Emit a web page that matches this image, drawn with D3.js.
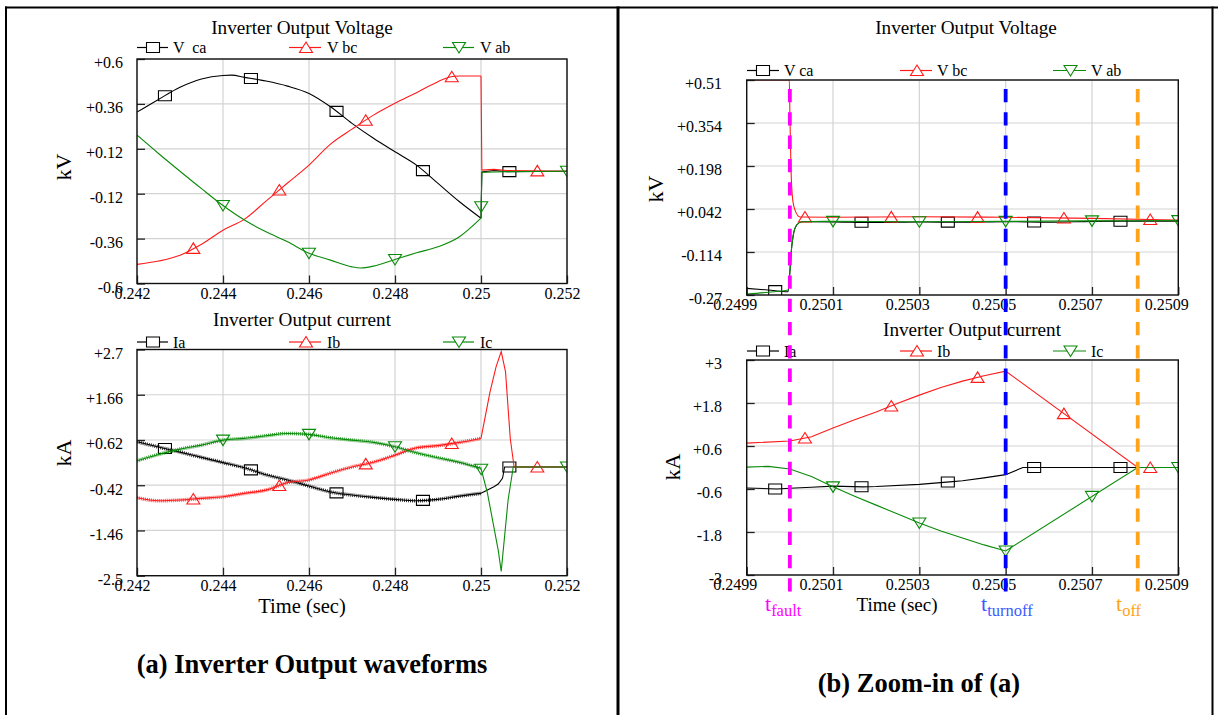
<!DOCTYPE html>
<html>
<head>
<meta charset="utf-8">
<script src="https://cdn.jsdelivr.net/npm/d3@7"></script>
<style>
  body { margin: 0; background: #fff; }
  svg text { font-family: "Liberation Serif", "Times New Roman", serif; }
</style>
</head>
<body>
<svg id="fig" width="1218" height="715" font-family="Liberation Serif, serif"></svg>
<script>
// ---------- (a) full window, line voltages in kV: [time s, value] ----------
const vcaA = [[0.2420,0.316],[0.2425,0.384],[0.2430,0.449],[0.2435,0.493],[0.2440,0.512],[0.2442,0.514],
  [0.2445,0.502],[0.2450,0.482],[0.2455,0.455],[0.2460,0.416],[0.2465,0.345],[0.2470,0.256],[0.2475,0.176],
  [0.2480,0.104],[0.2485,0.033],[0.2490,-0.065],[0.2495,-0.163],[0.2500,-0.251],[0.25002,-0.004],
  [0.2503,0.004],[0.2506,-0.002],[0.2520,0.0]];
const vbcA = [[0.2420,-0.498],[0.2425,-0.480],[0.2430,-0.449],[0.2435,-0.390],[0.2440,-0.315],[0.2445,-0.256],
  [0.2450,-0.160],[0.2455,-0.063],[0.2460,0.033],[0.2465,0.145],[0.2470,0.225],[0.2475,0.300],[0.2480,0.363],
  [0.2485,0.420],[0.2490,0.479],[0.2493,0.505],[0.2495,0.509],[0.2500,0.509],[0.25002,0.006],[0.2503,0.010],
  [0.2506,0.004],[0.2520,0.0]];
const vabA = [[0.2420,0.193],[0.2425,0.095],[0.2430,0.000],[0.2435,-0.093],[0.2440,-0.183],[0.2445,-0.261],
  [0.2450,-0.324],[0.2455,-0.377],[0.2460,-0.438],[0.2465,-0.475],[0.2470,-0.511],[0.2472,-0.517],[0.2475,-0.507],
  [0.2480,-0.472],[0.2485,-0.436],[0.2490,-0.404],[0.2495,-0.350],[0.2500,-0.251],[0.250005,-0.190],
  [0.25002,-0.006],[0.2503,-0.004],[0.2506,-0.002],[0.2520,0.0]];

// ---------- (a) full window, phase currents in kA ----------
const iaA = [[0.2420,0.578],[0.2425,0.458],[0.2430,0.341],[0.2435,0.220],[0.2440,0.100],[0.2445,-0.020],
  [0.2450,-0.180],[0.2455,-0.300],[0.2460,-0.440],[0.2465,-0.575],[0.2470,-0.646],[0.2475,-0.699],[0.2480,-0.745],
  [0.2485,-0.777],[0.2490,-0.745],[0.2495,-0.670],[0.2500,-0.607],[0.2503,-0.456],[0.2504,-0.394],[0.2505,-0.263],
  [0.25055,0.0],[0.2520,0.0]];
const ibA = [[0.2420,-0.708],[0.2425,-0.777],[0.2430,-0.761],[0.2435,-0.722],[0.2440,-0.686],[0.2445,-0.607],
  [0.2450,-0.532],[0.2455,-0.360],[0.2460,-0.300],[0.2465,-0.140],[0.2470,0.000],[0.2475,0.110],[0.2480,0.272],
  [0.2485,0.440],[0.2490,0.490],[0.2495,0.564],[0.2500,0.656],[0.25021,1.726],[0.25035,2.300],[0.25047,2.650],
  [0.25057,2.190],[0.25068,0.660],[0.25077,0.0],[0.2520,0.0]];
const icA = [[0.2420,0.141],[0.2425,0.288],[0.2430,0.410],[0.2435,0.502],[0.2440,0.617],[0.2445,0.656],
  [0.2450,0.716],[0.2455,0.770],[0.2460,0.748],[0.2465,0.670],[0.2470,0.617],[0.2475,0.564],[0.2480,0.463],
  [0.2485,0.325],[0.2490,0.210],[0.2495,0.105],[0.2500,-0.033],[0.25015,-0.600],[0.2504,-1.910],[0.25047,-2.400],
  [0.25063,-0.760],[0.25075,0.0],[0.2520,0.0]];

// ---------- (b) zoom around the fault, line voltages in kV ----------
const vcaB = [[0.24990,-0.246],[0.24995,-0.252],[0.249996,-0.258],[0.2500003,-0.180],[0.2500043,-0.095],
  [0.250008,-0.052],[0.2500158,-0.016],[0.2500274,-0.004],[0.25010,-0.005],[0.25020,-0.007],[0.25030,-0.005],
  [0.25040,-0.006],[0.25050,-0.004],[0.25060,-0.006],[0.25070,-0.003],[0.25080,-0.002],[0.25090,-0.002]];
const vbcB = [[0.24990,0.510],[0.2499987,0.510],[0.2500003,0.365],[0.2500027,0.183],[0.2500066,0.075],
  [0.250012,0.038],[0.2500235,0.013],[0.25010,0.012],[0.25030,0.014],[0.25050,0.012],[0.25070,0.008],[0.25090,0.002]];
const vabB = [[0.24990,-0.267],[0.24995,-0.260],[0.249996,-0.252],[0.2500003,-0.180],[0.2500043,-0.095],
  [0.250008,-0.052],[0.2500158,-0.016],[0.2500274,-0.004],[0.25010,-0.003],[0.25030,-0.004],[0.25050,-0.003],
  [0.25070,-0.001],[0.25090,0.0]];

// ---------- (b) zoom around the fault, phase currents in kA ----------
const iaB = [[0.24990,-0.57],[0.24997,-0.60],[0.25000,-0.58],[0.25005,-0.55],[0.25010,-0.52],[0.25017,-0.54],
  [0.25020,-0.53],[0.25030,-0.47],[0.25037,-0.40],[0.25040,-0.37],[0.25045,-0.29],[0.25050,-0.20],
  [0.25053,-0.05],[0.25054,0.0],[0.25090,0.0]];
const ibB = [[0.24990,0.68],[0.25000,0.74],[0.25005,0.86],[0.25010,1.10],[0.25015,1.33],[0.25020,1.55],
  [0.25025,1.79],[0.25030,2.02],[0.25035,2.23],[0.25040,2.41],[0.25045,2.56],[0.25050,2.69],[0.250806,0.0],
  [0.25090,0.0]];
const icB = [[0.24990,0.01],[0.24995,0.03],[0.25000,-0.04],[0.25005,-0.25],[0.25010,-0.54],[0.25015,-0.80],
  [0.25020,-1.05],[0.25025,-1.30],[0.25030,-1.55],[0.25035,-1.77],[0.25040,-1.97],[0.25045,-2.16],
  [0.25050,-2.33],[0.250806,0.0],[0.25090,0.0]];

// ---------- marker sample times ----------
const sqTimesA   = [0.24265, 0.24465, 0.24664, 0.24865, 0.25066];
const upTimesA   = [0.24331, 0.24531, 0.24732, 0.24932, 0.25131];
const downTimesA = [0.2440, 0.2460, 0.2480, 0.250005, 0.2520];
const sqTimesB   = [0.249966, 0.250166, 0.250366, 0.250566, 0.250766];
const upTimesB   = [0.250035, 0.250235, 0.250435, 0.250635, 0.250835];
const downTimesB = [0.2501, 0.2503, 0.2505, 0.2507, 0.2509];

// ---------- ticks ----------
const timeTicksA  = [0.242, 0.244, 0.246, 0.248, 0.250, 0.252];
const timeLabelsA = ["0.242", "0.244", "0.246", "0.248", "0.25", "0.252"];
const timeTicksB  = [0.2499, 0.2501, 0.2503, 0.2505, 0.2507, 0.2509];
const timeLabelsB = ["0.2499", "0.2501", "0.2503", "0.2505", "0.2507", "0.2509"];
const kvTicksA  = [0.6, 0.36, 0.12, -0.12, -0.36, -0.6];
const kvLabelsA = ["+0.6", "+0.36", "+0.12", "-0.12", "-0.36", "-0.6"];
const kaTicksA  = [2.7, 1.66, 0.62, -0.42, -1.46, -2.5];
const kaLabelsA = ["+2.7", "+1.66", "+0.62", "-0.42", "-1.46", "-2.5"];
const kvTicksB  = [0.51, 0.354, 0.198, 0.042, -0.114, -0.27];
const kvLabelsB = ["+0.51", "+0.354", "+0.198", "+0.042", "-0.114", "-0.27"];
const kaTicksB  = [3, 1.8, 0.6, -0.6, -1.8, -3];
const kaLabelsB = ["+3", "+1.8", "+0.6", "-0.6", "-1.8", "-3"];

// ---------- event instants in the zoomed view ----------
const tFault = 0.25, tTurnoff = 0.2505, tOff = 0.250806;

const BLACK = "#000000", RED = "#ff1a1a", GREEN = "#0a8a0a";
const svg = d3.select("#fig");
svg.append("rect").attr("width", 1218).attr("height", 715).attr("fill", "#fff");

function markerPath(kind) {
  if (kind === "square") return "M-6.5,-5H6.5V5H-6.5Z";
  if (kind === "up") return "M0,-5.5L6.5,5L-6.5,5Z";
  return "M-6.5,-5L6.5,-5L0,5.5Z";
}

function valueAt(series, t) {
  const i = d3.bisector(d => d[0]).right(series, t);
  if (i <= 0) return series[0][1];
  if (i >= series.length) return series[series.length - 1][1];
  const a = series[i - 1], b = series[i];
  return a[1] + (b[1] - a[1]) * (t - a[0]) / (b[0] - a[0]);
}

let clipId = 0;
function drawPanel(cfg) {
  const x = d3.scaleLinear().domain(cfg.xDomain).range([cfg.left, cfg.right]);
  const y = d3.scaleLinear().domain(cfg.yDomain).range([cfg.bottom, cfg.top]);
  const g = svg.append("g");

  // grid
  g.append("g").selectAll("line").data(cfg.xTicks).join("line")
    .attr("x1", d => x(d)).attr("x2", d => x(d)).attr("y1", cfg.top).attr("y2", cfg.bottom)
    .attr("stroke", "#d3d3d3").attr("stroke-width", 1.2);
  g.append("g").selectAll("line").data(cfg.yTicks).join("line")
    .attr("y1", d => y(d)).attr("y2", d => y(d)).attr("x1", cfg.left).attr("x2", cfg.right)
    .attr("stroke", "#d3d3d3").attr("stroke-width", 1.2);

  // series, clipped to the plot box
  const id = "clip" + (clipId++);
  svg.append("clipPath").attr("id", id).append("rect")
    .attr("x", cfg.left).attr("y", cfg.top).attr("width", cfg.right - cfg.left).attr("height", cfg.bottom - cfg.top);
  const plot = g.append("g").attr("clip-path", `url(#${id})`);
  const smooth = d3.line().x(d => x(d[0])).y(d => y(d[1])).curve(d3.curveMonotoneX);
  const sharp = d3.line().x(d => x(d[0])).y(d => y(d[1])).curve(d3.curveLinear);
  const split = cfg.sharpFrom !== undefined ? cfg.sharpFrom : Infinity;

  cfg.series.forEach(s => {
    const pre = s.data.filter(d => d[0] <= split);
    const post = s.data.filter(d => d[0] >= split);
    if (cfg.rippleUntil !== undefined) {
      // PWM switching ripple before the fault: drawn as a hatched band
      const rip = s.data.filter(d => d[0] <= cfg.rippleUntil);
      plot.append("path").attr("d", smooth(rip)).attr("fill", "none")
        .attr("stroke", s.color).attr("stroke-width", 3.6).attr("stroke-dasharray", "1,1")
        .attr("opacity", 0.8);
    }
    if (pre.length > 1) plot.append("path").attr("d", smooth(pre)).attr("fill", "none")
      .attr("stroke", s.color).attr("stroke-width", 1.1);
    if (post.length > 1) plot.append("path").attr("d", sharp(post)).attr("fill", "none")
      .attr("stroke", s.color).attr("stroke-width", 1.1);
    plot.append("g").selectAll("path").data(s.times).join("path")
      .attr("transform", t => `translate(${x(t)},${y(valueAt(s.data, t))})`)
      .attr("d", markerPath(s.marker)).attr("fill", "none")
      .attr("stroke", s.color).attr("stroke-width", 1.1);
  });

  // axes with inward ticks
  const gx = g.append("g").attr("transform", `translate(0,${cfg.bottom})`)
    .call(d3.axisBottom(x).tickValues(cfg.xTicks).tickFormat((d, i) => cfg.xLabels[i])
      .tickSize(-8).tickPadding(4));
  gx.select(".domain").remove();
  gx.attr("font-size", 16).attr("font-family", "Liberation Serif, serif");
  gx.selectAll("line").attr("stroke", "#222").attr("stroke-width", 1.3);
  gx.selectAll("text").attr("dx", cfg.xLabelDx).attr("fill", "#000");

  const gy = g.append("g").attr("transform", `translate(${cfg.left},0)`)
    .call(d3.axisLeft(y).tickValues(cfg.yTicks).tickFormat((d, i) => cfg.yLabels[i])
      .tickSize(-8).tickPadding(cfg.left - cfg.yLabelRight));
  gy.select(".domain").remove();
  gy.attr("font-size", 16).attr("font-family", "Liberation Serif, serif");
  gy.selectAll("line").attr("stroke", "#222").attr("stroke-width", 1.3);
  gy.selectAll("text").attr("dy", "0.55em").attr("fill", "#000");

  // frame
  g.append("rect").attr("x", cfg.left).attr("y", cfg.top)
    .attr("width", cfg.right - cfg.left).attr("height", cfg.bottom - cfg.top)
    .attr("fill", "none").attr("stroke", "#111").attr("stroke-width", 1.4);

  // title
  g.append("text").attr("x", cfg.titleX).attr("y", cfg.titleY).attr("text-anchor", "middle")
    .attr("font-size", 19.2).text(cfg.title);

  // legend
  cfg.series.forEach((s, i) => {
    const L = cfg.legend[i];
    g.append("line").attr("x1", L.x1).attr("x2", L.x2).attr("y1", cfg.legendY).attr("y2", cfg.legendY)
      .attr("stroke", s.color).attr("stroke-width", 1.2);
    g.append("path").attr("transform", `translate(${L.mx},${cfg.legendY})`).attr("d", markerPath(s.marker))
      .attr("fill", "#fff").attr("stroke", s.color).attr("stroke-width", 1.1);
    g.append("text").attr("x", L.tx).attr("y", cfg.legendY + 5.5).attr("font-size", 16)
      .style("white-space", "pre").text(s.name);
  });

  // unit label
  g.append("text").attr("transform", `translate(${cfg.unitX},${cfg.unitY}) rotate(-90)`)
    .attr("text-anchor", "middle").attr("dy", "0.35em").attr("font-size", 22).text(cfg.unit);

  if (cfg.timeLabel) {
    g.append("text").attr("x", cfg.timeLabel.x).attr("y", cfg.timeLabel.y).attr("text-anchor", "middle")
      .attr("font-size", cfg.timeLabel.size).text("Time (sec)");
  }
  return { x, y };
}

// ===== (a) =====
const legendA = [{ x1: 137, x2: 168, mx: 153, tx: 173 }, { x1: 289, x2: 321, mx: 306, tx: 327 },
                 { x1: 443, x2: 474, mx: 459, tx: 480 }];
drawPanel({
  left: 137, right: 567, top: 59, bottom: 283.5,
  xDomain: [0.242, 0.252], yDomain: [-0.6, 0.6],
  xTicks: timeTicksA, xLabels: timeLabelsA, yTicks: kvTicksA, yLabels: kvLabelsA,
  xLabelDx: -5, yLabelRight: 123, sharpFrom: 0.2500,
  title: "Inverter Output Voltage", titleX: 302, titleY: 34,
  legendY: 47.5, legend: legendA, unit: "kV", unitX: 63, unitY: 167,
  series: [
    { name: "V  ca", data: vcaA, color: BLACK, marker: "square", times: sqTimesA },
    { name: "V bc", data: vbcA, color: RED, marker: "up", times: upTimesA },
    { name: "V ab", data: vabA, color: GREEN, marker: "down", times: downTimesA }
  ]
});
drawPanel({
  left: 137, right: 567, top: 349.5, bottom: 575.7,
  xDomain: [0.242, 0.252], yDomain: [-2.5, 2.7],
  xTicks: timeTicksA, xLabels: timeLabelsA, yTicks: kaTicksA, yLabels: kaLabelsA,
  xLabelDx: -5, yLabelRight: 123, sharpFrom: 0.2500,
  title: "Inverter Output current", titleX: 302, titleY: 326,
  legendY: 342, legend: legendA, unit: "kA", unitX: 63, unitY: 453,
  rippleUntil: 0.2500,
  timeLabel: { x: 302, y: 613, size: 20.5 },
  series: [
    { name: "Ia", data: iaA, color: BLACK, marker: "square", times: sqTimesA },
    { name: "Ib", data: ibA, color: RED, marker: "up", times: upTimesA },
    { name: "Ic", data: icA, color: GREEN, marker: "down", times: downTimesA }
  ]
});

// ===== (b) =====
const legendB = [{ x1: 747, x2: 779, mx: 763, tx: 784 }, { x1: 900, x2: 932, mx: 917, tx: 937 },
                 { x1: 1053, x2: 1086, mx: 1070.5, tx: 1091 }];
const zoomScales = drawPanel({
  left: 746.7, right: 1178.3, top: 80, bottom: 295,
  xDomain: [0.2499, 0.2509], yDomain: [-0.27, 0.51],
  xTicks: timeTicksB, xLabels: timeLabelsB, yTicks: kvTicksB, yLabels: kvLabelsB,
  xLabelDx: -12, yLabelRight: 722,
  title: "Inverter Output Voltage", titleX: 966, titleY: 34,
  legendY: 70.5, legend: legendB, unit: "kV", unitX: 655, unitY: 189,
  series: [
    { name: "V ca", data: vcaB, color: BLACK, marker: "square", times: sqTimesB },
    { name: "V bc", data: vbcB, color: RED, marker: "up", times: upTimesB },
    { name: "V ab", data: vabB, color: GREEN, marker: "down", times: downTimesB }
  ]
});
drawPanel({
  left: 746.7, right: 1178.3, top: 360, bottom: 575,
  xDomain: [0.2499, 0.2509], yDomain: [-3, 3],
  xTicks: timeTicksB, xLabels: timeLabelsB, yTicks: kaTicksB, yLabels: kaLabelsB,
  xLabelDx: -12, yLabelRight: 722, sharpFrom: 0.2499,
  title: "Inverter Output current", titleX: 972, titleY: 336,
  legendY: 351, legend: legendB, unit: "kA", unitX: 672, unitY: 467,
  timeLabel: { x: 897, y: 611, size: 19 },
  series: [
    { name: "Ia", data: iaB, color: BLACK, marker: "square", times: sqTimesB },
    { name: "Ib", data: ibB, color: RED, marker: "up", times: upTimesB },
    { name: "Ic", data: icB, color: GREEN, marker: "down", times: downTimesB }
  ]
});

// event markers across both zoomed plots
const events = [
  { t: tFault, color: "#ff00ff", label: "t", sub: "fault", lx: 765 },
  { t: tTurnoff, color: "#0000ff", label: "t", sub: "turnoff", lx: 981 },
  { t: tOff, color: "#ffa31a", label: "t", sub: "off", lx: 1116 }
];
events.forEach(e => {
  svg.append("line").attr("x1", zoomScales.x(e.t)).attr("x2", zoomScales.x(e.t)).attr("y1", 89).attr("y2", 600)
    .attr("stroke", e.color).attr("stroke-width", 3.8).attr("stroke-dasharray", "13.3,10");
  const label = svg.append("text").attr("x", e.lx).attr("y", 611).attr("font-size", 22)
    .attr("fill", e.color === "#0000ff" ? "#3a5cff" : e.color).text(e.label);
  label.append("tspan").attr("font-size", 16.5).attr("dy", 5).text(e.sub);
});

// captions
svg.append("text").attr("x", 312).attr("y", 673).attr("text-anchor", "middle")
  .attr("font-size", 26.5).attr("font-weight", "bold").text("(a) Inverter Output waveforms");
svg.append("text").attr("x", 919).attr("y", 692).attr("text-anchor", "middle")
  .attr("font-size", 26.5).attr("font-weight", "bold").text("(b) Zoom-in of (a)");

// table borders
const border = svg.append("g").attr("stroke", "#000");
border.append("line").attr("x1", 5).attr("x2", 1218).attr("y1", 7.5).attr("y2", 7.5).attr("stroke-width", 2);
border.append("line").attr("x1", 6).attr("x2", 6).attr("y1", 6.5).attr("y2", 715).attr("stroke-width", 2);
border.append("line").attr("x1", 618).attr("x2", 618).attr("y1", 6.5).attr("y2", 715).attr("stroke-width", 3);
border.append("line").attr("x1", 1212.5).attr("x2", 1212.5).attr("y1", 6.5).attr("y2", 715).attr("stroke-width", 2);
</script>
</body>
</html>
